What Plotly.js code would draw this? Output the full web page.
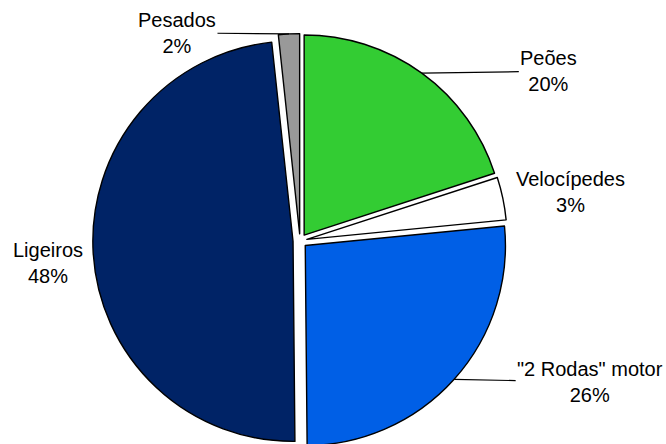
<!DOCTYPE html>
<html>
<head>
<meta charset="utf-8">
<script src="https://cdn.plot.ly/plotly-3.0.1.min.js"></script>
<style>html,body{margin:0;padding:0;background:#fff;overflow:hidden;}#chart{width:666px;height:448px;}</style>
</head>
<body>
<div id="chart"></div>
<script>
var categories = ['Peões', 'Velocípedes', '"2 Rodas" motor', 'Ligeiros', 'Pesados'];
var values = [20.0, 3.45, 26.4, 48.45, 1.7];
var sliceColors = ['#33CC33', '#FFFFFF', '#005FE6', '#002366', '#999999'];

// label placement (pixel offsets of each label from its slice's outer edge) and leader visibility
var labelOffsetX = [127, 68, 136, -45, -112];
var labelOffsetY = [-2, -6, 3, 10, -1];
var showLeader = [true, false, true, false, true];

var W = 666, H = 448;
var domX = [0.139, 0.762], domY = [0, 0.925];
var pullAmt = 0.035;

var fontSpec = {family: 'Liberation Sans, Arial, sans-serif', size: 20, color: '#000000'};

var trace = {
  type: 'pie',
  labels: categories,
  values: values,
  sort: false,
  direction: 'clockwise',
  rotation: 0,
  pull: pullAmt,
  marker: {colors: sliceColors, line: {color: '#000000', width: 1.4}},
  textinfo: 'none',
  hoverinfo: 'none',
  domain: {x: domX, y: domY},
  automargin: false
};

// geometry of the pie as Plotly lays it out
var rx = W * (domX[1] - domX[0]) / 2, ry = H * (domY[1] - domY[0]) / 2;
var r = Math.min(rx, ry) / (1 + pullAmt);
var cxPaper = (domX[0] + domX[1]) / 2, cyPaper = (domY[0] + domY[1]) / 2;
var total = values.reduce(function (a, b) { return a + b; }, 0);

var annotations = [];
var cum = 0;
for (var i = 0; i < values.length; i++) {
  var midFrac = (cum + values[i] / 2) / total;
  cum += values[i];
  var th = 2 * Math.PI * midFrac;
  var R = r * (1 + pullAmt);
  var pct = Math.round(values[i] / total * 100);
  annotations.push({
    xref: 'paper', yref: 'paper',
    x: cxPaper + R * Math.sin(th) / W,
    y: cyPaper + R * Math.cos(th) / H,
    ax: labelOffsetX[i], ay: labelOffsetY[i],
    text: categories[i] + '<br>' + pct + '%',
    showarrow: true, arrowhead: 0, arrowwidth: 1.2,
    arrowcolor: showLeader[i] ? '#000000' : 'rgba(0,0,0,0)',
    standoff: 0, startstandoff: 0,
    font: fontSpec, align: 'center',
    xanchor: 'center', yanchor: 'middle'
  });
}

var layout = {
  width: W, height: H,
  margin: {l: 0, r: 0, t: 0, b: 0},
  showlegend: false,
  paper_bgcolor: '#ffffff',
  plot_bgcolor: '#ffffff',
  annotations: annotations
};

Plotly.newPlot('chart', [trace], layout, {displayModeBar: false, staticPlot: true});
</script>
</body>
</html>
